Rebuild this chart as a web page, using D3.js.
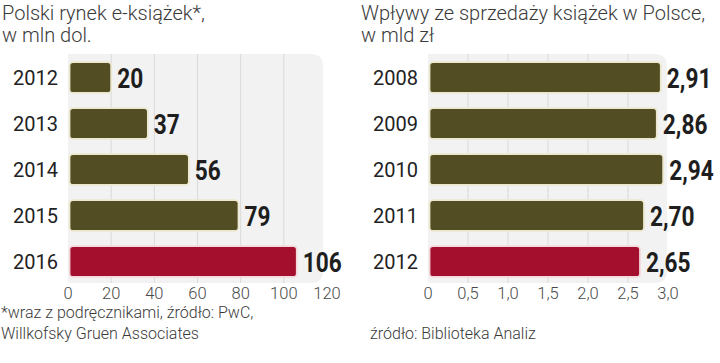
<!DOCTYPE html>
<html>
<head>
<meta charset="utf-8">
<script src="https://cdn.jsdelivr.net/npm/d3@7"></script>
<style>
  body { margin: 0; background: #fff; }
  svg text { font-family: Roboto, "Noto Sans", sans-serif; }
</style>
</head>
<body>
<div id="viz-container"></div>
<script>
// data
let ebookYears = ["2012", "2013", "2014", "2015", "2016"];
let ebookValues = [20, 37, 56, 79, 106];
let ebookLabels = ["20", "37", "56", "79", "106"];
let ebookTicks = [0, 20, 40, 60, 80, 100, 120];

let salesYears = ["2008", "2009", "2010", "2011", "2012"];
let salesValues = [2.91, 2.86, 2.94, 2.70, 2.65];
let salesLabels = ["2,91", "2,86", "2,94", "2,70", "2,65"];
let salesTicks = [0, 0.5, 1.0, 1.5, 2.0, 2.5, 3.0];

let olive = "#524d22";
let red = "#a30f2c";

let viz = d3.select("#viz-container")
    .append("svg")
    .attr("width", 720)
    .attr("height", 363);

//draws one panel
function drawPanel(opts) {
    let x = d3.scaleLinear().domain(opts.domain).range(opts.range);
    let y = d3.scaleBand().domain(opts.years).range([54.5, 284.5])
        .paddingInner(0.33).paddingOuter(0.165);

    let g = viz.append("g");

    //titles
    g.selectAll(".title").data(opts.title).enter().append("text")
        .attr("x", opts.titleX)
        .attr("y", (d, i) => 20 + i * 22)
        .attr("font-size", 20)
        .attr("font-weight", 300)
        .attr("fill", "#3a3a3a")
        .text(d => d);

    //background with rounded right side
    let x0 = opts.range[0], x1 = opts.bgRight, y0 = 54, y1 = 283, r = 12;
    g.append("path")
        .attr("d", "M" + x0 + "," + y0 + "H" + (x1 - r) + "Q" + x1 + "," + y0 + " " + x1 + "," + (y0 + r)
            + "V" + (y1 - r) + "Q" + x1 + "," + y1 + " " + (x1 - r) + "," + y1 + "H" + x0 + "Z")
        .attr("fill", "#f2f2f2");

    //gridlines
    g.selectAll(".grid").data(opts.ticks.slice(1, -1)).enter().append("line")
        .attr("x1", d => x(d)).attr("x2", d => x(d))
        .attr("y1", y0).attr("y2", y1)
        .attr("stroke", "#d9d9d9")
        .attr("stroke-width", 1);

    //tick labels
    g.selectAll(".tick").data(opts.ticks).enter().append("text")
        .attr("x", d => x(d))
        .attr("y", 299)
        .attr("text-anchor", "middle")
        .attr("font-size", 16.5)
        .attr("font-weight", 300)
        .attr("fill", "#4a4a4a")
        .text(opts.tickFormat);

    let rows = g.selectAll(".row").data(opts.values).enter().append("g");

    rows.append("rect")
        .attr("x", x(0) + 1.5)
        .attr("y", (d, i) => y(opts.years[i]))
        .attr("width", d => x(d) - x(0) - 1.5)
        .attr("height", y.bandwidth())
        .attr("rx", 3.5)
        .attr("fill", (d, i) => i == opts.values.length - 1 ? red : olive)
        .attr("stroke", (d, i) => i == opts.values.length - 1 ? "#f4d9dc" : "#ece8d0")
        .attr("stroke-width", 1.8);

    rows.append("text")
        .attr("x", opts.yearX)
        .attr("y", (d, i) => y(opts.years[i]) + y.bandwidth() / 2 + 7)
        .attr("text-anchor", "end")
        .attr("font-family", "'DejaVu Sans', sans-serif")
        .attr("font-size", 20)
        .attr("fill", "#222")
        .text((d, i) => opts.years[i]);

    //value labels, squeezed horizontally to look condensed
    rows.append("text")
        .attr("transform", (d, i) => "translate(" + (x(d) + 6) + "," + (y(opts.years[i]) + y.bandwidth() / 2 + 10) + ") scale(0.84,1)")
        .attr("font-weight", "bold")
        .attr("font-size", 27)
        .attr("fill", "#1e1e1e")
        .text((d, i) => opts.labels[i]);

    //source lines
    g.selectAll(".src").data(opts.source).enter().append("text")
        .attr("x", opts.sourceX)
        .attr("y", (d, i) => opts.sourceY + i * 21)
        .attr("font-size", 16)
        .attr("font-weight", 300)
        .attr("fill", "#3a3a3a")
        .text(d => d);
}

drawPanel({
    years: ebookYears, values: ebookValues, labels: ebookLabels,
    domain: [0, 120], range: [68, 327], bgRight: 323, ticks: ebookTicks,
    tickFormat: d => d,
    title: ["Polski rynek e-książek*,", "w mln dol."], titleX: 2,
    yearX: 58,
    source: ["*wraz z podręcznikami, źródło: PwC,", "Willkofsky Gruen Associates"], sourceX: 1, sourceY: 318
});

drawPanel({
    years: salesYears, values: salesValues, labels: salesLabels,
    domain: [0, 3], range: [428, 668], bgRight: 667, ticks: salesTicks,
    tickFormat: d => d == 0 ? "0" : d3.format(".1f")(d).replace(".", ","),
    title: ["Wpływy ze sprzedaży książek w Polsce,", "w mld zł"], titleX: 361,
    yearX: 418,
    source: ["źródło: Biblioteka Analiz"], sourceX: 370, sourceY: 339
});
</script>
</body>
</html>
